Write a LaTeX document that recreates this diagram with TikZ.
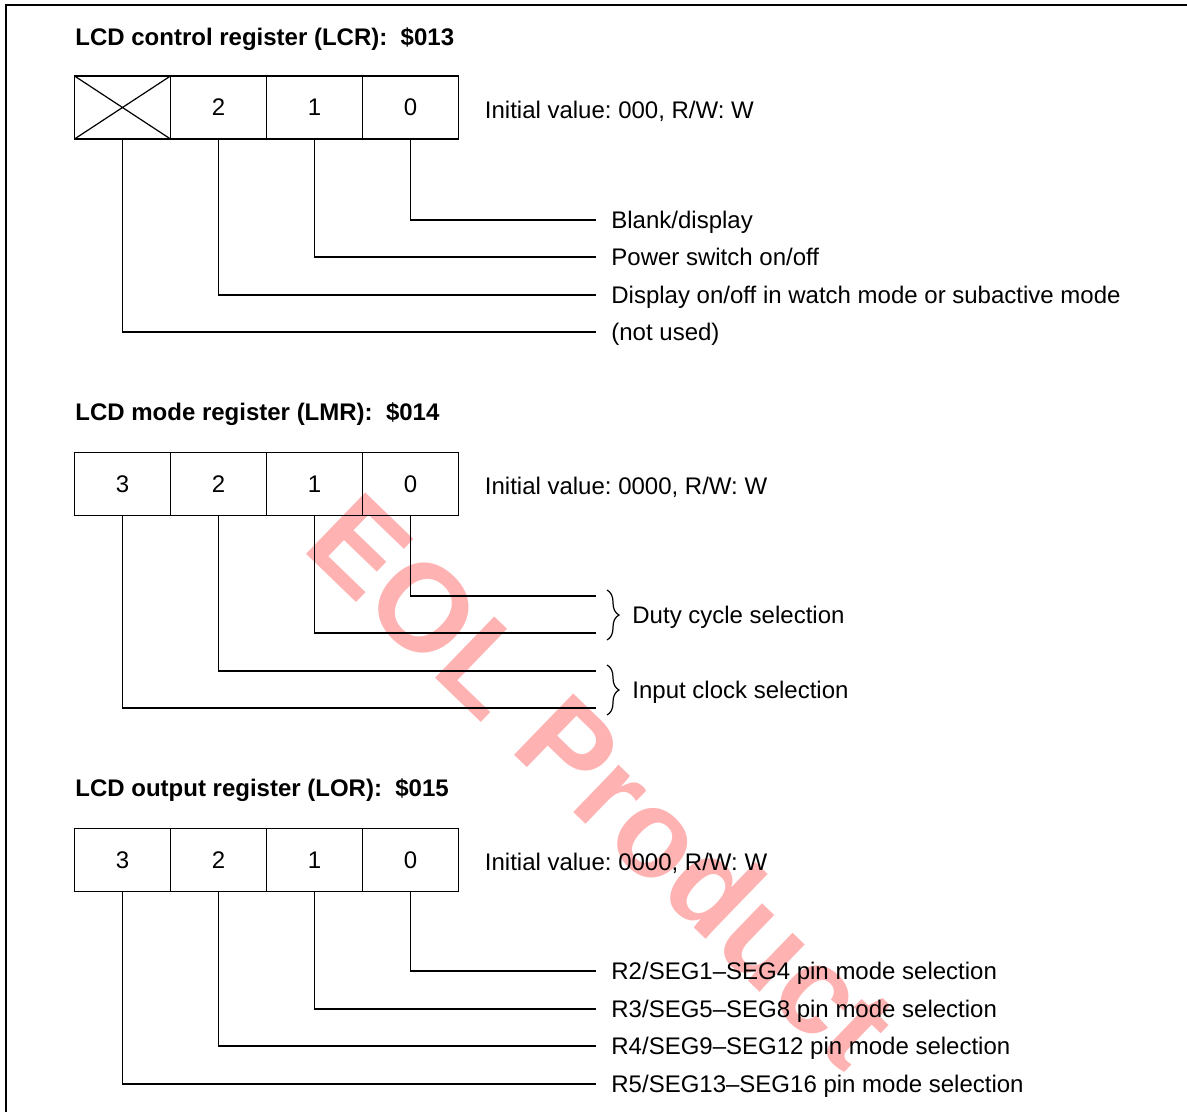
\documentclass[tikz,border=0pt]{standalone}
\usepackage{fontspec}
\setmainfont{Liberation Sans}
\frenchspacing
\usetikzlibrary{positioning,decorations.pathreplacing}

\tikzset{
  bitcell/.style={draw, line width=0.7pt, minimum width=48pt, minimum height=31.5pt,
    inner sep=0pt, outer sep=0pt, font=\fontsize{12}{14}\selectfont},
  regtitle/.style={anchor=west, inner sep=0pt, text height=8.6pt, text depth=0pt,
    font=\fontsize{12}{14}\selectfont\bfseries},
  info/.style={anchor=west, inner sep=0pt, text height=8.6pt, text depth=0pt,
    font=\fontsize{12}{14}\selectfont},
  bitlabel/.style={anchor=west, inner xsep=7.5pt, inner ysep=0pt, text height=8.6pt,
    text depth=0pt, font=\fontsize{12}{14}\selectfont},
  tap/.style={line width=0.7pt},
  curly/.style={decorate, decoration={brace, amplitude=6pt}, line width=0.6pt},
  frame/.style={line width=1pt},
  watermark/.style={rotate=-44, anchor=base west, inner sep=0pt, text=red!30,
    font=\fontsize{62}{64}\selectfont\bfseries}
}

\begin{document}
\begin{tikzpicture}[x=0.5pt, y=-0.5pt]
\useasboundingbox (0,0) rectangle (1187,1112);

% watermark behind everything
\node[watermark] (eol) at (300,548) {EOL Product};

% frame
\draw[frame] (1187,5) -- (6,5) -- (6,1112);

% LCR
\node[regtitle] (lcrtitle) at (75,37) {LCD control register (LCR):~~\$013};
\node[bitcell] (lcr3) at (122.5,107.5) {};
\node[bitcell, right=0pt of lcr3] (lcr2) {2};
\node[bitcell, right=0pt of lcr2] (lcr1) {1};
\node[bitcell, right=0pt of lcr1] (lcr0) {0};
\draw[line width=0.6pt] (lcr3.north west) -- (lcr3.south east)
  (lcr3.south west) -- (lcr3.north east);
\node[info, right=13pt of lcr0, yshift=-1pt] (lcrinit) {Initial value: 000, R/W: W};

\node[bitlabel] (lcrb0) at (596,220) {Blank/display};
\node[bitlabel] (lcrb1) at (596,257) {Power switch on/off};
\node[bitlabel] (lcrb2) at (596,295) {Display on/off in watch mode or subactive mode};
\node[bitlabel] (lcrb3) at (596,332) {(not used)};
\foreach \b in {0,...,3}
  \draw[tap] (lcr\b.south) |- (lcrb\b.west);

% LMR
\node[regtitle] (lmrtitle) at (75,412) {LCD mode register (LMR):~~\$014};
\node[bitcell] (lmr3) at (122.5,484) {3};
\node[bitcell, right=0pt of lmr3] (lmr2) {2};
\node[bitcell, right=0pt of lmr2] (lmr1) {1};
\node[bitcell, right=0pt of lmr1] (lmr0) {0};
\node[info, right=13pt of lmr0, yshift=-1pt] (lmrinit) {Initial value: 0000, R/W: W};

\coordinate (lmre0) at (596,596);
\coordinate (lmre1) at (596,633);
\coordinate (lmre2) at (596,671);
\coordinate (lmre3) at (596,708);
\foreach \b in {0,...,3}
  \draw[tap] (lmr\b.south) |- (lmre\b);

\coordinate (dutytop) at (607,590);
\coordinate (dutybot) at (607,640);
\coordinate (clktop) at (607,665);
\coordinate (clkbot) at (607,715);
\draw[curly] (dutytop) -- (dutybot);
\draw[curly] (clktop) -- (clkbot);
\node[info] (duty) at (632,615) {Duty cycle selection};
\node[info] (clk) at (632,690) {Input clock selection};

% LOR
\node[regtitle] (lortitle) at (75,788) {LCD output register (LOR):~~\$015};
\node[bitcell] (lor3) at (122.5,860) {3};
\node[bitcell, right=0pt of lor3] (lor2) {2};
\node[bitcell, right=0pt of lor2] (lor1) {1};
\node[bitcell, right=0pt of lor1] (lor0) {0};
\node[info, right=13pt of lor0, yshift=-1pt] (lorinit) {Initial value: 0000, R/W: W};

\node[bitlabel] (lorb0) at (596,971) {R2/SEG1\textendash SEG4 pin mode selection};
\node[bitlabel] (lorb1) at (596,1009) {R3/SEG5\textendash SEG8 pin mode selection};
\node[bitlabel] (lorb2) at (596,1046) {R4/SEG9\textendash SEG12 pin mode selection};
\node[bitlabel] (lorb3) at (596,1084) {R5/SEG13\textendash SEG16 pin mode selection};
\foreach \b in {0,...,3}
  \draw[tap] (lor\b.south) |- (lorb\b.west);
\end{tikzpicture}
\end{document}
